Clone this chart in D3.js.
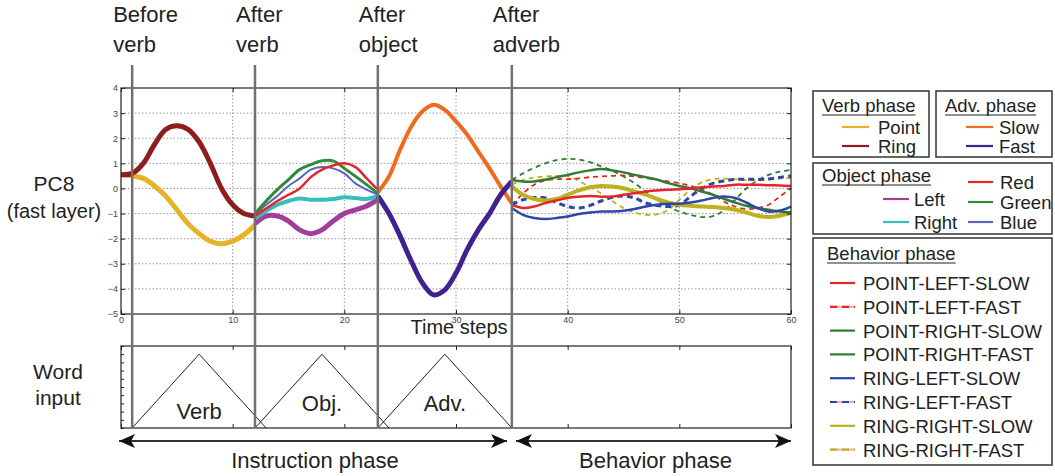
<!DOCTYPE html>
<html>
<head>
<meta charset="utf-8">
<script src="https://cdn.jsdelivr.net/npm/d3@7"></script>
<style>
  body { margin: 0; background: #fff; }
  text { font-family: "Liberation Sans", Arial, Helvetica, sans-serif; fill: #222; }
</style>
</head>
<body>
<svg></svg>
<script>
// time steps for each phase
const tVerb = d3.range(0, 13)
const tObj = d3.range(12, 24)
const tAdv = d3.range(23, 36)
const tBeh = d3.range(35, 61)

// verb phase
const verbPoint = [0.55, 0.5, 0.4, 0.1, -0.3, -0.85, -1.4, -1.8, -2.1, -2.2, -2.1, -1.85, -1.45]
const verbRing = [0.55, 0.6, 1.0, 1.75, 2.35, 2.5, 2.35, 1.85, 1.0, 0.0, -0.65, -1.0, -1.1]

// object phase
const objLeft = [-1.4, -1.1, -1.1, -1.3, -1.65, -1.8, -1.65, -1.3, -1.0, -0.85, -0.7, -0.45]
const objRight = [-1.2, -0.9, -0.65, -0.5, -0.4, -0.45, -0.45, -0.42, -0.35, -0.38, -0.42, -0.3]
const objRed = [-1.1, -0.8, -0.5, -0.25, 0.0, 0.45, 0.75, 0.92, 1.0, 0.85, 0.4, -0.05]
const objGreen = [-1.0, -0.5, -0.05, 0.35, 0.75, 0.95, 1.1, 1.1, 0.8, 0.48, 0.15, -0.2]
const objBlue = [-1.05, -0.65, -0.3, 0.1, 0.4, 0.75, 0.85, 0.8, 0.6, 0.2, -0.05, -0.25]

// adverb phase
const advSlow = [-0.15, 0.48, 1.55, 2.47, 3.07, 3.33, 3.13, 2.67, 2.14, 1.47, 0.8, 0.08, -0.6]
const advFast = [-0.3, -1.0, -1.9, -2.9, -3.77, -4.24, -4.04, -3.37, -2.44, -1.65, -1.0, -0.25, 0.28]

// behavior phase
const plSlow = [-0.65, -0.78, -0.72, -0.58, -0.48, -0.38, -0.33, -0.3, -0.33, -0.32, -0.25, -0.19, -0.12, -0.08, -0.05, -0.03, 0.0, 0.05, 0.08, 0.1, 0.15, 0.15, 0.15, 0.13, 0.12, 0.1]
const plFast = [-0.65, -0.2, 0.15, 0.32, 0.37, 0.37, 0.4, 0.45, 0.48, 0.5, 0.52, 0.48, 0.41, 0.35, 0.28, 0.21, 0.1, -0.05, -0.25, -0.52, -0.72, -0.82, -0.78, -0.65, -0.32, 0.01]
const prSlow = [0.35, 0.28, 0.28, 0.35, 0.45, 0.54, 0.64, 0.72, 0.77, 0.72, 0.64, 0.54, 0.45, 0.35, 0.21, 0.1, 0.01, -0.12, -0.25, -0.41, -0.56, -0.69, -0.78, -0.85, -0.92, -0.96]
const prFast = [0.35, 0.6, 0.82, 1.0, 1.13, 1.18, 1.15, 1.05, 0.88, 0.7, 0.48, 0.2, -0.12, -0.45, -0.72, -0.92, -1.05, -1.14, -1.1, -0.88, -0.45, 0.0, 0.32, 0.54, 0.67, 0.74]
const rlSlow = [-0.78, -1.05, -1.18, -1.22, -1.18, -1.12, -1.02, -0.96, -0.92, -0.92, -0.89, -0.82, -0.72, -0.65, -0.61, -0.61, -0.56, -0.48, -0.38, -0.32, -0.38, -0.56, -0.78, -0.92, -0.88, -0.72]
const rlFast = [-0.65, -0.45, -0.36, -0.38, -0.56, -0.72, -0.78, -0.68, -0.5, -0.35, -0.3, -0.38, -0.58, -0.68, -0.72, -0.66, -0.32, 0.0, 0.2, 0.3, 0.36, 0.37, 0.36, 0.38, 0.44, 0.5]
const rrSlow = [0.08, -0.25, -0.42, -0.48, -0.42, -0.25, -0.08, 0.05, 0.1, 0.08, 0.01, -0.12, -0.25, -0.42, -0.56, -0.65, -0.69, -0.72, -0.74, -0.78, -0.85, -0.96, -1.09, -1.14, -1.09, -0.96]
const rrFast = [0.15, 0.33, 0.43, 0.48, 0.5, 0.48, 0.3, 0.05, -0.2, -0.5, -0.78, -0.96, -1.05, -1.03, -0.85, -0.45, -0.05, 0.24, 0.37, 0.39, 0.37, 0.33, 0.32, 0.36, 0.4, 0.41]

// axes / annotations
const xTicks = [0, 10, 20, 30, 40, 50, 60]
const yTicks = [4, 3, 2, 1, 0, -1, -2, -3, -4, -5]
const phaseSteps = [1, 12, 23, 35]
const phaseTop = ['Before', 'After', 'After', 'After']
const phaseBottom = ['verb', 'verb', 'object', 'adverb']
const wordNames = ['Verb', 'Obj.', 'Adv.']
const wordStart = [1, 12, 23]
const wordPeak = [7, 18, 29]
const wordEnd = [13, 24, 35]
const wordPeakValue = 0.9

const verbLabels = ['Point', 'Ring']
const advLabels = ['Slow', 'Fast']
const objLocLabels = ['Left', 'Right']
const objColLabels = ['Red', 'Green', 'Blue']
const behLabels = ['POINT-LEFT-SLOW', 'POINT-LEFT-FAST', 'POINT-RIGHT-SLOW', 'POINT-RIGHT-FAST',
                   'RING-LEFT-SLOW', 'RING-LEFT-FAST', 'RING-RIGHT-SLOW', 'RING-RIGHT-FAST']

const C = {
  point: '#e8b228', ring: '#8e1e1e', slow: '#f06a1e', fast: '#3f2290',
  left: '#a03e9e', right: '#36bdbd', red: '#e8242a', green: '#2f8a3a', blue: '#5b63c4',
  bRed: '#e8242a', bGreen: '#2e7d32', bBlue: '#2c47a8', bOlive: '#bdb21e'
}

const series = [
  { t: tVerb, v: verbPoint, color: C.point, w: 5 },
  { t: tVerb, v: verbRing, color: C.ring, w: 5 },
  { t: tObj, v: objLeft, color: C.left, w: 5 },
  { t: tObj, v: objRight, color: C.right, w: 4 },
  { t: tObj, v: objBlue, color: C.blue, w: 2 },
  { t: tObj, v: objGreen, color: C.green, w: 3 },
  { t: tObj, v: objRed, color: C.red, w: 2.5 },
  { t: tAdv, v: advSlow, color: C.slow, w: 4 },
  { t: tAdv, v: advFast, color: C.fast, w: 5 },
  { t: tBeh, v: prFast, color: C.bGreen, w: 1.8, dash: '5,4' },
  { t: tBeh, v: rrFast, color: C.bOlive, w: 1.8, dash: '5,4' },
  { t: tBeh, v: plFast, color: C.bRed, w: 1.8, dash: '5,4' },
  { t: tBeh, v: rlFast, color: C.bBlue, w: 3, dash: '6,4' },
  { t: tBeh, v: rrSlow, color: C.bOlive, w: 4 },
  { t: tBeh, v: prSlow, color: C.bGreen, w: 2.5 },
  { t: tBeh, v: plSlow, color: C.bRed, w: 2.5 },
  { t: tBeh, v: rlSlow, color: C.bBlue, w: 2.5 }
]

const width = 1055
const height = 476
const plotLeft = 121
const plotRight = 791
const plotTop = 88
const plotBottom = 314
const wordTop = 346
const wordBottom = 428

const svg = d3.select('svg').attr('width', width).attr('height', height)

const xScale = d3.scaleLinear().domain([0, 60]).range([plotLeft, plotRight])
const yScale = d3.scaleLinear().domain([-5, 4]).range([plotBottom, plotTop])
const wScale = d3.scaleLinear().domain([0, 1]).range([wordBottom, wordTop])

// grid
const grid = svg.append('g').attr('stroke', '#999').attr('stroke-width', 1).attr('stroke-dasharray', '1.5,2')
grid.selectAll('.gy').data(yTicks.filter(d => d > -5 && d < 4)).join('line')
    .attr('x1', plotLeft).attr('x2', plotRight)
    .attr('y1', d => yScale(d)).attr('y2', d => yScale(d))
grid.selectAll('.gx').data(xTicks.filter(d => d > 0 && d < 60)).join('line')
    .attr('y1', plotTop).attr('y2', plotBottom)
    .attr('x1', d => xScale(d)).attr('x2', d => xScale(d))

// trajectories
const line = d3.line().curve(d3.curveCatmullRom.alpha(0.5))
svg.append('g')
   .selectAll('path')
   .data(series)
   .join('path')
   .attr('d', s => line(s.t.map((t, i) => [xScale(t), yScale(s.v[i])])))
   .attr('fill', 'none')
   .attr('stroke', s => s.color)
   .attr('stroke-width', s => s.w)
   .attr('stroke-dasharray', s => s.dash || null)
   .attr('stroke-linejoin', 'round')

// axes
const styleAxis = g => {
  g.select('.domain').remove()
  g.selectAll('line').attr('stroke', '#222')
  g.selectAll('text').style('font-size', '9px').style('fill', '#444')
}
svg.append('g').attr('transform', `translate(${plotLeft},0)`)
   .call(d3.axisLeft(yScale).tickValues(yTicks).tickSize(-4).tickPadding(3)).call(styleAxis)
svg.append('g').attr('transform', `translate(0,${plotBottom})`)
   .call(d3.axisBottom(xScale).tickValues(xTicks).tickSize(-4).tickPadding(3)).call(styleAxis)
svg.append('g').attr('transform', `translate(${plotRight},0)`)
   .call(d3.axisRight(yScale).tickValues(yTicks).tickSize(-4).tickFormat('')).call(styleAxis)
svg.append('g').attr('transform', `translate(0,${plotTop})`)
   .call(d3.axisTop(xScale).tickValues(xTicks).tickSize(-4).tickFormat('')).call(styleAxis)

svg.append('rect')
   .attr('x', plotLeft).attr('y', plotTop)
   .attr('width', plotRight - plotLeft).attr('height', plotBottom - plotTop)
   .attr('fill', 'none').attr('stroke', '#222').attr('stroke-width', 1.2)

svg.append('text').text('Time steps')
   .attr('x', 459).attr('y', 334).attr('text-anchor', 'middle').style('font-size', '20px')

svg.append('text').text('PC8')
   .attr('x', 54).attr('y', 191).attr('text-anchor', 'middle').style('font-size', '21px')
svg.append('text').text('(fast layer)')
   .attr('x', 54).attr('y', 218).attr('text-anchor', 'middle').style('font-size', '20px')

// word input panel
svg.append('g').attr('transform', `translate(${plotLeft},0)`)
   .call(d3.axisLeft(wScale).ticks(10).tickSize(-3).tickFormat('')).call(styleAxis)
svg.append('g').attr('transform', `translate(0,${wordBottom})`)
   .call(d3.axisBottom(xScale).tickValues(xTicks).tickSize(-4).tickFormat('')).call(styleAxis)
svg.append('g').attr('transform', `translate(0,${wordTop})`)
   .call(d3.axisTop(xScale).tickValues(xTicks).tickSize(-4).tickFormat('')).call(styleAxis)

svg.append('g')
   .selectAll('path')
   .data(wordNames)
   .join('path')
   .attr('d', (d, i) => d3.line()([
     [xScale(wordStart[i]), wScale(0)],
     [xScale(wordPeak[i]), wScale(wordPeakValue)],
     [xScale(wordEnd[i]), wScale(0)]
   ]))
   .attr('fill', 'none').attr('stroke', '#222').attr('stroke-width', 1)

svg.append('g')
   .selectAll('text')
   .data(wordNames)
   .join('text')
   .text(d => d)
   .attr('x', (d, i) => xScale(wordPeak[i]))
   .attr('y', (d, i) => i === 0 ? 419 : 411)
   .attr('text-anchor', 'middle')
   .style('font-size', '22px')

svg.append('rect')
   .attr('x', plotLeft).attr('y', wordTop)
   .attr('width', plotRight - plotLeft).attr('height', wordBottom - wordTop)
   .attr('fill', 'none').attr('stroke', '#222').attr('stroke-width', 1.2)

svg.append('text').text('Word')
   .attr('x', 58).attr('y', 379).attr('text-anchor', 'middle').style('font-size', '21px')
svg.append('text').text('input')
   .attr('x', 58).attr('y', 405).attr('text-anchor', 'middle').style('font-size', '21px')

// phase markers
svg.append('g')
   .selectAll('line')
   .data(phaseSteps)
   .join('line')
   .attr('x1', d => xScale(d)).attr('x2', d => xScale(d))
   .attr('y1', 65).attr('y2', wordBottom)
   .attr('stroke', '#707070').attr('stroke-width', 2.5)

const phaseLabels = svg.append('g')
   .selectAll('text')
   .data(phaseSteps)
   .join('text')
   .attr('x', d => xScale(d) - 19)
   .style('font-size', '22px')
phaseLabels.append('tspan').attr('y', 22).text((d, i) => phaseTop[i])
phaseLabels.append('tspan').attr('y', 52).attr('x', d => xScale(d) - 19).text((d, i) => phaseBottom[i])

// phase arrows
const defs = svg.append('defs')
defs.append('marker').attr('id', 'head')
    .attr('viewBox', '0 0 16 14').attr('refX', 16).attr('refY', 7)
    .attr('markerWidth', 16).attr('markerHeight', 14)
    .attr('markerUnits', 'userSpaceOnUse').attr('orient', 'auto-start-reverse')
    .append('path').attr('d', 'M0,0 L16,7 L0,14 L4,7 Z').attr('fill', '#111')

const arrows = [[119, 507, 'Instruction phase'], [516, 791, 'Behavior phase']]
arrows.forEach(([a, b, label]) => {
  svg.append('line')
     .attr('x1', a).attr('x2', b).attr('y1', 441).attr('y2', 441)
     .attr('stroke', '#333').attr('stroke-width', 2)
     .attr('marker-start', 'url(#head)').attr('marker-end', 'url(#head)')
  svg.append('text').text(label)
     .attr('x', (a + b) / 2 + 2).attr('y', 468)
     .attr('text-anchor', 'middle').style('font-size', '22px')
})

// legends
const legend = svg.append('g')
const box = (x, y, w, h) => legend.append('rect')
    .attr('x', x).attr('y', y).attr('width', w).attr('height', h)
    .attr('fill', '#fff').attr('stroke', '#333').attr('stroke-width', 1.5)
const title = (txt, x, y) => {
  const t = legend.append('text').text(txt).attr('x', x).attr('y', y).style('font-size', '18.5px')
  const len = t.node().getComputedTextLength()
  legend.append('line').attr('x1', x).attr('x2', x + len).attr('y1', y + 3).attr('y2', y + 3)
        .attr('stroke', '#222').attr('stroke-width', 1)
}
const item = (txt, color, x1, x2, y, tx, dashed) => {
  if (dashed) {
    legend.append('line').attr('x1', x1).attr('x2', x2).attr('y1', y).attr('y2', y)
          .attr('stroke', '#f4b0b0').attr('stroke-width', 2.2)
  }
  legend.append('line').attr('x1', x1).attr('x2', x2).attr('y1', y).attr('y2', y)
        .attr('stroke', color).attr('stroke-width', 2.2)
        .attr('stroke-dasharray', dashed ? '7,5' : null)
  legend.append('text').text(txt).attr('x', tx).attr('y', y + 7).style('font-size', '18.5px')
}

box(813, 91, 116, 66)
title('Verb phase', 822, 112)
verbLabels.forEach((d, i) => item(d, [C.point, C.ring][i], 842, 869, 127 + i * 19, 878))

box(936, 91, 116, 66)
title('Adv. phase', 945, 112)
advLabels.forEach((d, i) => item(d, [C.slow, C.fast][i], 966, 993, 127 + i * 19, 999))

box(813, 163, 239, 71)
title('Object phase', 822, 182)
objLocLabels.forEach((d, i) => item(d, [C.left, C.right][i], 883, 909, 199 + i * 23, 914))
objColLabels.forEach((d, i) => item(d, [C.red, C.green, C.blue][i], 968, 993, 182 + i * 20, 1000))

box(813, 238, 239, 227)
title('Behavior phase', 827, 260)
const behColors = [C.bRed, C.bRed, C.bGreen, C.bGreen, C.bBlue, C.bBlue, C.bOlive, C.bOlive]
// the reference legend draws POINT-RIGHT-FAST as a plain line
const behDashed = [false, true, false, false, false, true, false, true]
behLabels.forEach((d, i) => item(d, behColors[i], 830, 855, 283 + i * 23.8, 863, behDashed[i]))
</script>
</body>
</html>
